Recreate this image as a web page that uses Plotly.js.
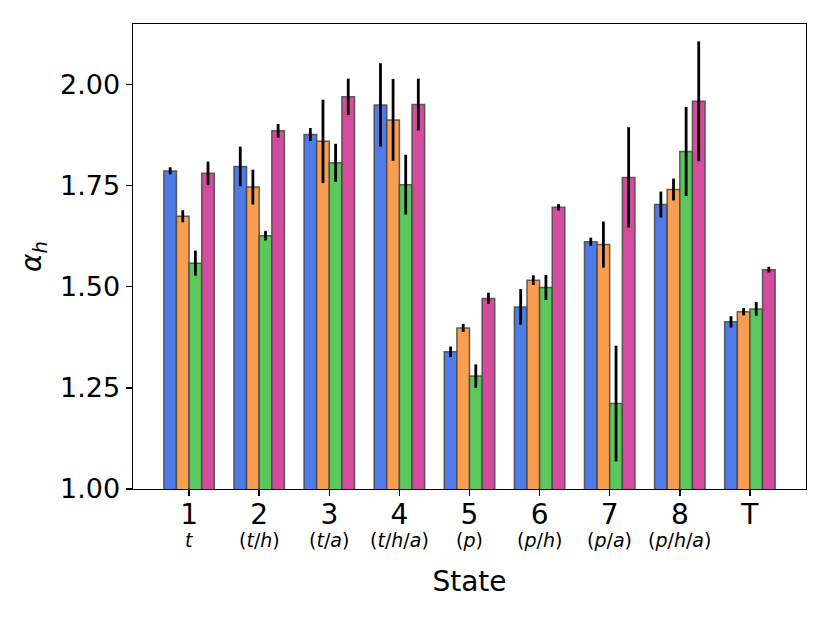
<!DOCTYPE html>
<html>
<head>
<meta charset="utf-8">
<script src="https://cdn.plot.ly/plotly-3.0.1.min.js"></script>
<style>
  html, body { margin: 0; padding: 0; background: #fff; }
  #chart { width: 830px; height: 623px; }
</style>
</head>
<body>
<div id="chart"></div>
<script>
var states = ['1', '2', '3', '4', '5', '6', '7', '8', 'T'];
var subLabels = ['<i>t</i>', '(<i>t</i>/<i>h</i>)', '(<i>t</i>/<i>a</i>)', '(<i>t</i>/<i>h</i>/<i>a</i>)',
  '(<i>p</i>)', '(<i>p</i>/<i>h</i>)', '(<i>p</i>/<i>a</i>)', '(<i>p</i>/<i>h</i>/<i>a</i>)', ''];

var blueVals   = [1.786, 1.797, 1.876, 1.949, 1.339, 1.450, 1.611, 1.703, 1.413];
var blueErr    = [0.009, 0.049, 0.016, 0.103, 0.013, 0.044, 0.010, 0.032, 0.014];
var orangeVals = [1.674, 1.746, 1.859, 1.912, 1.398, 1.516, 1.604, 1.740, 1.438];
var orangeErr  = [0.015, 0.043, 0.103, 0.101, 0.010, 0.012, 0.057, 0.027, 0.009];
var greenVals  = [1.558, 1.626, 1.806, 1.752, 1.279, 1.498, 1.211, 1.834, 1.445];
var greenErr   = [0.031, 0.012, 0.047, 0.074, 0.029, 0.031, 0.143, 0.110, 0.017];
var pinkVals   = [1.780, 1.885, 1.969, 1.950, 1.471, 1.696, 1.770, 1.958, 1.542];
var pinkErr    = [0.029, 0.017, 0.045, 0.064, 0.014, 0.008, 0.124, 0.148, 0.007];

var xpos = states.map(function (s, i) { return i; });

function series(vals, errs, color) {
  return {
    type: 'bar',
    x: xpos,
    y: vals,
    marker: { color: color, line: { color: 'rgba(70,70,70,0.85)', width: 1.5 } },
    error_y: { type: 'data', array: errs, visible: true, color: '#000', thickness: 2.8, width: 0 },
    showlegend: false,
    hoverinfo: 'y'
  };
}

var data = [
  series(blueVals, blueErr, '#4f7be9'),
  series(orangeVals, orangeErr, '#f99d4f'),
  series(greenVals, greenErr, '#5ac85c'),
  series(pinkVals, pinkErr, '#d44c9d')
];

var fontFam = 'DejaVu Sans, sans-serif';

// second line of each x tick label (skip the empty one under T)
var notes = [];
subLabels.forEach(function (t, i) {
  if (!t) return;
  notes.push({
    text: t, x: i, xref: 'x', y: -0.11, yref: 'paper',
    xanchor: 'center', yanchor: 'middle', showarrow: false,
    font: { family: fontFam, size: 19, color: '#000' }
  });
});

var layout = {
  width: 830,
  height: 623,
  margin: { l: 133, r: 24, t: 24, b: 134 },
  paper_bgcolor: '#fff',
  plot_bgcolor: '#fff',
  font: { family: fontFam, color: '#000' },
  barmode: 'group',
  bargap: 0.28,
  bargroupgap: 0,
  xaxis: {
    range: [-0.8, 8.8],
    tickvals: xpos,
    ticktext: states,
    tickfont: { size: 28 },
    ticklabelstandoff: -6,
    ticks: 'outside', ticklen: 6, tickwidth: 1.4, tickcolor: '#000',
    showline: true, linecolor: '#000', linewidth: 1.4, mirror: true,
    showgrid: false, zeroline: false,
    title: { text: 'State', font: { size: 28 }, standoff: 41 }
  },
  yaxis: {
    range: [1.0, 2.149],
    tickvals: [1.0, 1.25, 1.5, 1.75, 2.0],
    ticktext: ['1.00', '1.25', '1.50', '1.75', '2.00'],
    tickfont: { size: 27 },
    ticks: 'outside', ticklen: 6, tickwidth: 1.4, tickcolor: '#000',
    showline: true, linecolor: '#000', linewidth: 1.4, mirror: true,
    showgrid: false, zeroline: false,
    title: { text: '<i>α</i><sub><i>h</i></sub>', font: { size: 28 }, standoff: 10 }
  },
  annotations: notes
};

Plotly.newPlot('chart', data, layout, { displayModeBar: false, staticPlot: true });
</script>
</body>
</html>
